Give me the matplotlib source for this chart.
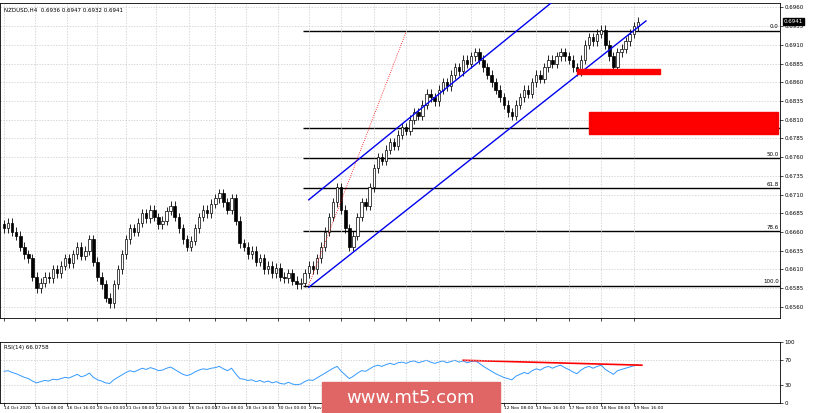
import matplotlib
matplotlib.use("Agg")
import matplotlib.pyplot as plt
import numpy as np

closes = [0.6665,0.6672,0.6660,0.6655,0.6640,0.6630,0.6625,0.6600,0.6585,
 0.6592,0.6600,0.6598,0.6610,0.6605,0.6615,0.6625,0.6618,0.6630,0.6640,0.6628,0.6635,0.6650,0.6620,0.6600,0.6590,
 0.6572,0.6565,0.6590,0.6610,0.6630,0.6650,0.6665,
 0.6660,0.6672,0.6685,0.6678,0.6690,0.6680,0.6670,0.6675,0.6688,0.6695,0.6680,0.6665,0.6650,0.6640,0.6648,
 0.6665,0.6680,0.6690,0.6685,0.6698,0.6705,0.6712,0.6700,0.6690,0.6705,0.6675,0.6645,
 0.6640,0.6630,0.6635,0.6620,0.6625,0.6610,0.6615,0.6605,0.6612,0.6600,0.6598,0.6605,0.6595,0.6590,0.6592,
 0.6605,0.6615,0.6610,0.6625,0.6640,0.6660,0.6680,0.6700,0.6720,0.6690,0.6665,0.6640,
 0.6655,0.6680,0.6700,0.6695,0.6720,0.6745,0.6760,0.6755,0.6770,0.6780,0.6775,0.6790,0.6800,0.6795,0.6810,0.6820,0.6815,0.6830,0.6845,0.6840,
 0.6835,0.6850,0.6860,0.6855,0.6870,0.6880,0.6875,0.6890,0.6885,0.6895,0.6900,0.6890,
 0.6880,0.6870,0.6860,0.6850,0.6840,0.6830,0.6820,0.6815,
 0.6830,0.6840,0.6850,0.6845,0.6860,0.6870,0.6865,0.6880,0.6890,0.6885,0.6895,0.6900,0.6895,0.6890,0.6880,0.6875,
 0.6890,0.6910,0.6920,0.6915,0.6925,0.6930,0.6910,0.6895,0.6880,0.6900,0.6905,0.6915,0.6925,0.6935,0.6941]
first_open = 0.6670
wick = 0.0006

rsi = [52,53,50,48,45,42,40,36,33,
 35,37,36,39,38,40,42,41,44,47,43,45,49,42,38,36,
 33,32,38,42,46,50,53,
 51,54,57,55,58,56,53,54,57,59,55,51,47,45,47,
 51,54,56,55,57,58,60,56,53,57,48,40,
 39,37,38,35,37,34,36,33,35,32,31,34,31,30,31,
 35,38,37,41,45,49,53,57,60,52,46,40,
 44,49,53,52,56,60,62,60,63,65,63,66,67,65,68,69,66,68,70,67,
 65,67,69,66,68,70,67,69,66,68,69,65,
 60,56,52,48,45,42,40,38,
 44,47,50,48,53,56,54,58,60,57,60,62,58,55,51,48,
 54,58,60,57,60,62,55,51,47,53,55,57,59,61,63]

fib_levels = [0.0, 38.2, 50.0, 61.8, 78.6, 100.0]
fib_high, fib_low = 0.6929, 0.6588
price_ticks = [0.6960,0.6935,0.6910,0.6885,0.6860,0.6835,0.6810,0.6785,0.6760,0.6735,0.6710,0.6685,0.6660,0.6635,0.6610,0.6585,0.6560]
xtick_pos = [0,7.5,15.5,23,30,37.5,45.5,52,59.5,67.5,75,83,91,99,107,115,123,131,139,147,155]
xtick_lab = ["14 Oct 2020","15 Oct 08:00","16 Oct 16:00","20 Oct 00:00","21 Oct 08:00","22 Oct 16:00",
 "26 Oct 00:00","27 Oct 08:00","28 Oct 16:00","30 Oct 00:00","2 Nov 16:00","4 Nov 00:00","5 Nov 08:00",
 "6 Nov 16:00","10 Nov 00:00","11 Nov 08:00","12 Nov 08:00","13 Nov 16:00","17 Nov 00:00","18 Nov 08:00",
 "19 Nov 16:00"]

W, H = 820, 413
fig = plt.figure(figsize=(8.2, 4.13), dpi=100)
fig.patch.set_facecolor("white")
ax = fig.add_axes([0, 1-318/H, 780/W, 315/H])
ar = fig.add_axes([0, 1-403/H, 780/W, 61/H])
XMAX = 191

n = len(closes)
opens = [first_open] + closes[:-1]
x = np.arange(n)
for i in range(n):
    o, c = opens[i], closes[i]
    hi, lo = max(o, c) + wick, min(o, c) - wick
    ax.vlines(i, lo, hi, color="black", lw=0.6, zorder=2)
    up = c >= o
    ax.bar(i, max(abs(c-o), 0.00005), bottom=min(o, c), width=0.6,
           facecolor="white" if up else "black", edgecolor="black", lw=0.5, zorder=3)

for lv in fib_levels:
    p = fib_high - (fib_high - fib_low) * lv / 100
    ax.hlines(p, 73.5, XMAX, color="black", lw=1.0, zorder=1)
    ax.text(XMAX - 0.3, p + 0.0002, f"{lv:.1f}", fontsize=4, ha="right", va="bottom")

ax.plot([75, 136], [0.6703, 0.6972], color="#0000ee", lw=1.0, zorder=4)
ax.plot([75, 158], [0.6586, 0.6942], color="#0000ee", lw=1.0, zorder=4)
ax.plot([75, 99], [0.6589, 0.6928], color="red", lw=0.6, ls=":", zorder=4)
ax.add_patch(plt.Rectangle((141, 0.6871), 20.5, 0.0007, color="red", zorder=5))
ax.add_patch(plt.Rectangle((144, 0.6791), 46.5, 0.0029, color="red", zorder=5))
ax.add_patch(plt.Rectangle((144.5, 0.6792), 45.5, 0.0027, fill=False, ec="#cc0000", lw=0.5, ls=":", zorder=6))

ax.set_xlim(-1, XMAX)
ax.set_ylim(0.6545, 0.6966)
ax.yaxis.tick_right()
ax.set_yticks(price_ticks)
ax.set_yticklabels([f"{t:.4f}" for t in price_ticks], fontsize=4)
ax.set_xticks(xtick_pos)
ax.set_xticklabels([])
ax.tick_params(length=2, width=0.5, pad=1)
ax.grid(True, color="#c8c8c8", ls=(0, (2, 2)), lw=0.5)
ax.text(0.005, 0.985, "NZDUSD,H4  0.6936 0.6947 0.6932 0.6941", transform=ax.transAxes, fontsize=4, va="top")
ax.text(1.005, 0.6941, "0.6941", transform=ax.get_yaxis_transform(), fontsize=4, va="center",
        color="white", bbox=dict(boxstyle="square,pad=0.15", fc="black", ec="black"), clip_on=False)

ar.plot(x, rsi, color="#3399ff", lw=0.7)
ar.plot([113, 157], [70, 62], color="red", lw=1.2)
ar.set_ylim(0, 100)
ar.set_xlim(-1, XMAX)
ar.yaxis.tick_right()
ar.set_yticks([0, 30, 70, 100])
ar.set_yticklabels(["0", "30", "70", "100"], fontsize=4)
ar.axhline(30, color="#c8c8c8", ls=(0, (2, 2)), lw=0.5)
ar.axhline(70, color="#c8c8c8", ls=(0, (2, 2)), lw=0.5)
ar.set_xticks(xtick_pos)
ar.set_xticklabels(xtick_lab, fontsize=3.2, ha="left")
ar.tick_params(axis="x", length=2, width=0.5, pad=0.5)
ar.tick_params(axis="y", length=2, width=0.5, pad=1)
ar.grid(True, axis="x", color="#c8c8c8", ls=(0, (2, 2)), lw=0.5)
ar.text(0.005, 0.95, "RSI(14) 66.0758", transform=ar.transAxes, fontsize=4, va="top")
for a in (ax, ar):
    for s in a.spines.values():
        s.set_linewidth(0.6)

fig.patches.append(plt.Rectangle((322/W, 0), 178/W, 31/H, transform=fig.transFigure,
                                 color="#e06666", zorder=10))
fig.text(411/W, 15/H, "www.mt5.com", color="white", fontsize=13, ha="center", va="center", zorder=11)

fig.savefig("out.png", dpi=100)
